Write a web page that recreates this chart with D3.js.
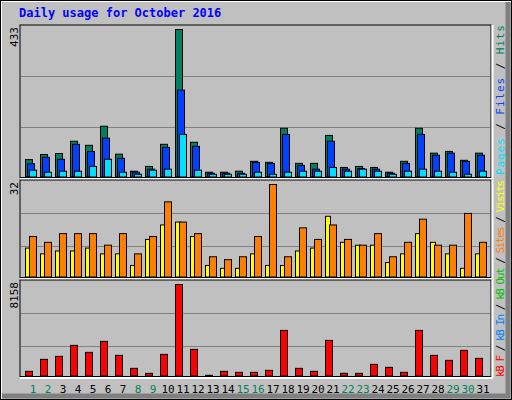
<!DOCTYPE html><html><head><script src="https://cdn.jsdelivr.net/npm/d3@7"></script>
<style>body{margin:0;background:#fff}</style></head><body><svg id="c" width="512" height="400"></svg><script>
const days=d3.range(1,32);
const hits=[51,66,69,105,93,149,67,17,31,96,433,102,14,14,17,46,43,143,40,40,122,28,31,28,14,46,143,70,75,49,70];
const files=[39,58,52,96,75,114,55,14,23,87,255,90,11,11,11,43,40,125,34,23,105,23,25,23,11,40,125,64,70,46,64];
const pages=[20,14,17,17,31,52,14,8,20,23,125,20,8,8,8,14,8,14,17,17,28,17,23,17,8,17,23,17,14,8,17];
const visits=[10,8,9,9,10,8,8,4,13,18,19,14,4,3,3,8,4,4,9,10,21,12,11,11,5,8,15,12,8,3,8];
const sites=[14,12,15,15,15,11,15,8,14,26,19,15,7,6,7,14,32,7,17,13,18,13,11,15,7,12,20,11,11,22,12];
const kbytes=[415,1484,1750,2730,2107,3086,1840,682,237,1929,8158,2374,60,415,326,326,504,4065,682,415,3175,237,237,1038,771,326,4065,1840,1394,2285,1572];
const weekend=[1,2,8,9,15,16,22,23,29,30];
const svg=d3.select("#c");
svg.append("rect").attr("width",512).attr("height",400).attr("fill","#c0c0c0");
svg.append("path").attr("d","M1,399V1H511").attr("stroke","#fff").attr("stroke-width",2).attr("fill","none");
svg.append("path").attr("d","M2,396H508V2").attr("stroke","#808080").attr("stroke-width",5).attr("fill","none");
svg.append("rect").attr("x",0.5).attr("y",0.5).attr("width",511).attr("height",399).attr("fill","none").attr("stroke","#000");
svg.append("text").attr("x",19).attr("y",17).attr("fill","#0000ff").attr("font-family","DejaVu Sans Mono").attr("font-weight","bold").attr("font-size",12).text("Daily usage for October 2016");
const x=d3.scaleLinear().domain([1,31]).range([25,475]);
const L=20,R=491;
function panel(top,base,max,grids){
  svg.append("rect").attr("x",L).attr("y",top).attr("width",R-L).attr("height",base-top+1).attr("fill","#c0c0c0").attr("stroke","#000");
  svg.append("path").attr("d",`M${L},${base+2.5}H${R+1}M${R+1.5},${top}V${base+3}`).attr("stroke","#fff").attr("stroke-width",2);
  grids.forEach(g=>svg.append("line").attr("x1",L+1).attr("x2",R-1).attr("y1",g).attr("y2",g).attr("stroke","#808080").attr("stroke-width",1));
  return d3.scaleLinear().domain([0,max]).range([base,top+4]);
}
function bars(data,y,off,w,color){
  svg.append("g").selectAll("rect").data(data).join("rect")
   .attr("x",(d,i)=>x(days[i])+off+0.5).attr("y",d=>y(d)+0.5).attr("width",w)
   .attr("height",d=>Math.max(1,y(0)-y(d))).attr("fill",color).attr("stroke","#000");
}
const y1=panel(25,176.5,433,[76.5,127.5]);
bars(hits,y1,0,7,"#00805c");bars(files,y1,2,7,"#0040ff");bars(pages,y1,4,7,"#00e0ff");
const y2=panel(180,276.5,32,[213.5,246.5]);
bars(visits,y2,0,5,"#ffff00");bars(sites,y2,4,7,"#ff8000");
const y3=panel(280,375.5,8158,[313.5,346.5]);
bars(kbytes,y3,0,7,"#ff0000");
svg.append("g").selectAll("text").data(days).join("text").attr("x",d=>x(d)+8).attr("y",393)
  .attr("text-anchor","middle").attr("font-family","DejaVu Sans Mono").attr("font-size",11)
  .attr("fill",d=>weekend.includes(d)?"#00805c":"#000").text(d=>d);
function vlab(xp,yp,str){svg.append("text").attr("transform",`translate(${xp},${yp}) rotate(-90)`).attr("text-anchor","end")
  .attr("font-family","DejaVu Sans Mono").attr("font-size",11).text(str);}
vlab(18,27,"433");vlab(18,182,"32");vlab(18,282,"8158");
function rlab(yp,len,parts){const t=svg.append("text").attr("transform",`translate(504,${yp}) rotate(-90)`)
  .attr("font-family","DejaVu Sans Mono").attr("font-size",11).attr("textLength",len).attr("lengthAdjust","spacing");
  parts.forEach(p=>t.append("tspan").attr("fill",p[1]).text(p[0]));}
rlab(175,150,[["Pages","#00e0ff"],[" / ","#000"],["Files","#0040ff"],[" / ","#000"],["Hits","#00805c"]]);
rlab(377,197,[["kB F","#ff0000"],[" / ","#000"],["kB In","#0080ff"],[" / ","#000"],["kB Out","#00c000"],[" / ","#000"],["Sites","#ff8000"],[" / ","#000"],["Visits","#ffff00"]]);
</script></body></html>
